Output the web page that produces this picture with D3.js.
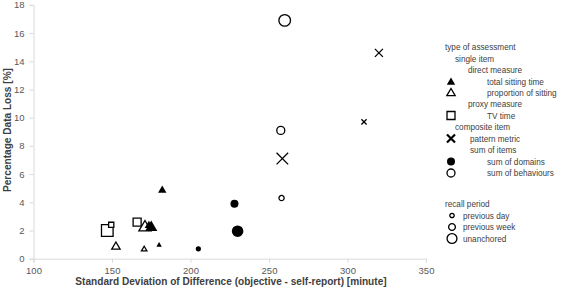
<!DOCTYPE html>
<html>
<head>
<meta charset="utf-8">
<script src="https://cdn.jsdelivr.net/npm/d3@7"></script>
<style>
  body { margin: 0; background: #fff; }
  svg { display: block; }
</style>
</head>
<body>
<svg id="chart"></svg>
<script>
// values
const sdDiff   = [147, 149.5, 166, 152.5, 170.5, 180, 182, 171, 173.5, 175, 228, 230, 205, 260, 257.5, 258, 320, 310.5, 258.5];
const dataLoss = [2.0, 2.4, 2.6, 0.9, 0.7, 1.0, 4.9, 2.3, 2.4, 2.3, 3.9, 1.95, 0.7, 16.9, 9.1, 4.3, 14.6, 9.7, 7.1];
const typeOf   = ['tv', 'tv', 'tv', 'prop', 'prop', 'total', 'total', 'prop', 'total', 'total',
                  'domains', 'domains', 'domains', 'behav', 'behav', 'behav', 'pattern', 'pattern', 'pattern'];
const recallOf = ['unanchored', 'previous day', 'previous week', 'previous week', 'previous day', 'previous day', 'previous week',
                  'unanchored', 'previous week', 'unanchored', 'previous week', 'unanchored', 'previous day',
                  'unanchored', 'previous week', 'previous day', 'previous week', 'previous day', 'unanchored'];
const xTicks = [100, 150, 200, 250, 300, 350];
const yTicks = [0, 2, 4, 6, 8, 10, 12, 14, 16, 18];

const width = 567, height = 293;
const svg = d3.select('#chart').attr('width', width).attr('height', height);

const x = d3.scaleLinear().domain([100, 350]).range([33.5, 426]);
const y = d3.scaleLinear().domain([0, 18]).range([258.7, 4.9]);

const tickFont = '"Liberation Sans", Arial, sans-serif';

// axes
const xAxis = svg.append('g')
    .attr('transform', `translate(0,${y(0)})`)
    .call(d3.axisBottom(x).tickValues(xTicks).tickSize(4).tickPadding(5));
const yAxis = svg.append('g')
    .attr('transform', `translate(${x(100)},0)`)
    .call(d3.axisLeft(y).tickValues(yTicks).tickSize(4).tickPadding(5));
[xAxis, yAxis].forEach(a => {
    a.selectAll('path, line').attr('stroke', '#d9d9d9');
    a.selectAll('text').attr('fill', '#595959').attr('font-size', '9.5px').style('font-family', tickFont);
});

// axis titles
svg.append('text')
    .attr('x', 231).attr('y', 285)
    .attr('text-anchor', 'middle')
    .attr('font-size', '10.1px').attr('font-weight', 'bold').attr('fill', '#404040')
    .style('font-family', tickFont)
    .text('Standard Deviation of Difference (objective - self-report) [minute]');
svg.append('text')
    .attr('transform', 'translate(11,130) rotate(-90)')
    .attr('text-anchor', 'middle')
    .attr('font-size', '10.1px').attr('font-weight', 'bold').attr('fill', '#404040')
    .style('font-family', tickFont)
    .text('Percentage Data Loss  [%]');

// marker half-size per recall period
const halfSize = { 'previous day': 2.6, 'previous week': 4, 'unanchored': 5.8 };

function markerPath(type, s) {
    if (type === 'total' || type === 'prop') {
        return `M0,${-s}L${s * 1.05},${s * 0.8}L${-s * 1.05},${s * 0.8}Z`;
    }
    if (type === 'tv') {
        return `M${-s},${-s}H${s}V${s}H${-s}Z`;
    }
    if (type === 'pattern') {
        return `M${-s},${-s}L${s},${s}M${-s},${s}L${s},${-s}`;
    }
    return d3.arc()({ innerRadius: 0, outerRadius: s, startAngle: 0, endAngle: 2 * Math.PI });
}
const filled = t => t === 'total' || t === 'domains';

function drawMarker(g, type, s, px, py, legend) {
    const p = g.append('path')
        .attr('transform', `translate(${px},${py})`)
        .attr('d', markerPath(type, s));
    if (filled(type)) {
        p.attr('fill', '#000').attr('stroke', 'none');
    } else {
        p.attr('fill', type === 'pattern' ? 'none' : '#fff')
            .attr('stroke', '#000')
            .attr('stroke-width', legend && type === 'pattern' ? 2.2 : 1.3);
    }
}

// points: open shapes first, filled on top
const marks = svg.append('g');
const order = d3.range(sdDiff.length).sort((a, b) => filled(typeOf[a]) - filled(typeOf[b]));
order.forEach(i => {
    drawMarker(marks, typeOf[i], halfSize[recallOf[i]], x(sdDiff[i]), y(dataLoss[i]), false);
});

// legend
const legend = svg.append('g').style('font-family', '"Liberation Sans Narrow", "Liberation Sans", Arial, sans-serif')
    .attr('font-size', '8.2px').attr('fill', '#404040');
const legendRows = [
    { text: 'type of assessment', tx: 445, ty: 47 },
    { text: 'single item', tx: 455, ty: 58.5 },
    { text: 'direct measure', tx: 468, ty: 70 },
    { text: 'total sitting time', tx: 487, ty: 81.5, type: 'total' },
    { text: 'proportion of sitting', tx: 487, ty: 92.5, type: 'prop' },
    { text: 'proxy measure', tx: 468, ty: 104 },
    { text: 'TV time', tx: 487, ty: 115.5, type: 'tv' },
    { text: 'composite item', tx: 455, ty: 127 },
    { text: 'pattern metric', tx: 470, ty: 138.5, type: 'pattern' },
    { text: 'sum of items', tx: 470, ty: 150 },
    { text: 'sum of domains', tx: 487, ty: 161.5, type: 'domains' },
    { text: 'sum of behaviours', tx: 487, ty: 173, type: 'behav' },
    { text: 'recall period', tx: 445, ty: 204 },
    { text: 'previous day', tx: 463, ty: 215.5, recall: 'previous day' },
    { text: 'previous week', tx: 463, ty: 227, recall: 'previous week' },
    { text: 'unanchored', tx: 463, ty: 238.5, recall: 'unanchored' }
];
legendRows.forEach(r => {
    legend.append('text').attr('x', r.tx).attr('y', r.ty + 3).text(r.text);
    if (r.type) drawMarker(legend, r.type, 4, 451, r.ty, true);
    if (r.recall) drawMarker(legend, 'behav', halfSize[r.recall] * 0.85, 452, r.ty, true);
});
</script>
</body>
</html>
